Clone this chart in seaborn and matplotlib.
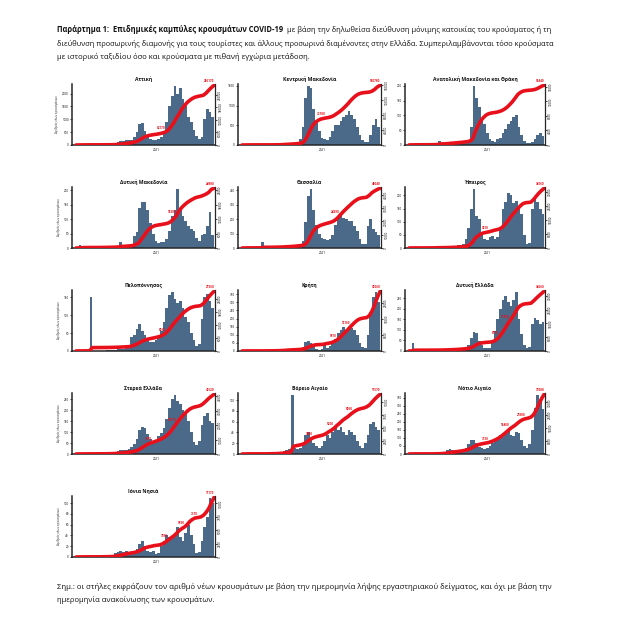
import numpy as np
import pandas as pd
import seaborn as sns
import matplotlib.pyplot as plt
import matplotlib.dates as mdates
from matplotlib.ticker import MultipleLocator, MaxNLocator

# daily new cases, mean per 10-day bin starting 1 March 2020
bin_start = pd.date_range('2020-03-01', periods=52, freq='10D')

attiki = [5, 15, 20, 15, 10, 5, 3, 3, 3, 3, 5, 10, 10, 15, 25, 80, 120, 150, 170, 190, 180, 200, 300, 500,
          800, 850, 550, 350, 250, 200, 180, 250, 300, 450, 900, 1500, 1900, 2300, 2000, 2200, 1800, 1500,
          1100, 900, 600, 350, 250, 300, 1000, 1400, 1300, 1100]
k_makedonia = [2, 10, 8, 5, 3, 2, 1, 1, 1, 1, 2, 4, 5, 8, 15, 30, 45, 50, 40, 45, 50, 70, 150, 450,
               1200, 1500, 1450, 900, 550, 350, 180, 150, 130, 200, 350, 500, 500, 600, 700, 750, 850, 750,
               650, 450, 250, 120, 70, 80, 250, 500, 650, 450]
a_makedonia = [1, 2, 1, 1, 1, 0, 0, 1, 0, 1, 2, 4, 14, 3, 4, 6, 8, 5, 6, 8, 7, 8, 10, 15,
               60, 200, 160, 130, 90, 70, 40, 20, 12, 10, 20, 25, 40, 55, 70, 80, 95, 100,
               60, 35, 15, 8, 6, 10, 20, 35, 40, 30]
d_makedonia = [1, 2, 10, 4, 2, 1, 0, 0, 1, 1, 1, 2, 2, 3, 3, 5, 8, 20, 6, 8, 10, 15, 40, 55,
               140, 160, 160, 130, 85, 50, 25, 18, 20, 20, 30, 60, 110, 130, 205, 140, 110, 95,
               75, 65, 60, 35, 25, 45, 50, 75, 125, 45]
thessalia = [1, 3, 2, 2, 1, 1, 1, 1, 40, 2, 1, 2, 3, 4, 5, 8, 10, 12, 12, 15, 18, 20, 25, 50,
             180, 360, 410, 260, 160, 100, 70, 60, 55, 65, 90, 160, 220, 225, 210, 200, 185, 190,
             150, 120, 60, 25, 30, 150, 200, 130, 110, 90]
ipeiros = [1, 2, 1, 1, 0, 0, 0, 0, 1, 1, 1, 8, 2, 2, 3, 4, 5, 6, 6, 10, 12, 15, 35, 75,
           150, 225, 120, 110, 60, 35, 30, 40, 45, 35, 40, 80, 150, 175, 210, 200, 170, 180,
           160, 130, 50, 15, 20, 150, 190, 175, 150, 130]
peloponnisos = [1, 2, 1, 1, 1, 0, 150, 0, 1, 1, 1, 1, 2, 2, 3, 4, 5, 6, 6, 8, 10, 40, 45, 60,
                75, 55, 45, 30, 25, 25, 30, 35, 55, 80, 120, 155, 165, 145, 135, 140, 120, 95,
                80, 50, 30, 15, 20, 90, 150, 160, 140, 120]
kriti = [1, 2, 1, 1, 0, 0, 0, 0, 0, 1, 1, 2, 2, 3, 4, 6, 10, 12, 8, 6, 6, 8, 12, 25,
         55, 60, 50, 30, 12, 8, 10, 35, 20, 30, 55, 75, 110, 130, 150, 125, 150, 140,
         130, 100, 50, 25, 20, 100, 230, 330, 365, 300]
d_ellada = [1, 2, 40, 3, 1, 1, 0, 0, 1, 1, 1, 2, 2, 3, 4, 5, 6, 8, 8, 10, 12, 15, 18, 30,
            60, 90, 85, 45, 30, 15, 12, 15, 40, 95, 150, 200, 240, 260, 230, 215, 240, 280,
            150, 80, 30, 15, 20, 130, 155, 145, 130, 135]
sterea = [1, 3, 2, 2, 1, 1, 0, 1, 1, 1, 1, 2, 3, 4, 6, 10, 15, 20, 18, 20, 25, 30, 45, 70,
          110, 125, 120, 90, 70, 60, 65, 80, 95, 120, 160, 210, 250, 270, 240, 230, 200, 190,
          150, 100, 55, 40, 60, 130, 175, 185, 150, 140]
v_aigaio = [0, 1, 1, 1, 0, 0, 0, 0, 0, 0, 1, 1, 1, 2, 3, 4, 6, 8, 10, 110, 12, 10, 12, 20,
            35, 40, 30, 20, 15, 12, 15, 25, 35, 30, 40, 50, 45, 50, 40, 35, 45, 40,
            35, 25, 15, 12, 20, 35, 55, 60, 50, 45]
n_aigaio = [1, 3, 2, 1, 1, 0, 0, 0, 0, 1, 2, 4, 6, 10, 15, 25, 30, 25, 20, 22, 25, 30, 40, 60,
            90, 85, 70, 45, 35, 30, 35, 50, 70, 80, 95, 120, 130, 140, 150, 120, 110, 140,
            130, 90, 50, 40, 60, 150, 290, 370, 330, 280]
ionia = [0, 1, 1, 1, 0, 0, 0, 0, 0, 0, 1, 1, 1, 2, 3, 8, 10, 12, 10, 12, 9, 8, 11, 14,
         25, 30, 20, 12, 10, 12, 6, 8, 20, 30, 40, 38, 35, 45, 55, 38, 30, 45,
         60, 40, 25, 8, 10, 30, 55, 75, 110, 100]

titles = ['Αττική', 'Κεντρική Μακεδονία', 'Ανατολική Μακεδονία και Θράκη',
          'Δυτική Μακεδονία', 'Θεσσαλία', 'Ήπειρος',
          'Πελοπόννησος', 'Κρήτη', 'Δυτική Ελλάδα',
          'Στερεά Ελλάδα', 'Βόρειο Αιγαίο', 'Νότιο Αιγαίο',
          'Ιόνια Νησιά']
series = [attiki, k_makedonia, a_makedonia, d_makedonia, thessalia, ipeiros,
          peloponnisos, kriti, d_ellada, sterea, v_aigaio, n_aigaio, ionia]
tick_steps = [500, 500, 50, 50, 100, 50, 50, 50, 50, 50, 20, 50, 20]
# bins where the cumulative total is written in red
label_bins = [[33], [31], [], [37], [36], [30], [33], [35, 40], [34, 38],
              [28, 37], [26, 34, 41], [30, 38, 44], [34, 40, 45]]

header_bold = 'Παράρτημα 1:  Επιδημικές καμπύλες κρουσμάτων COVID-19'
header = ['με βάση την δηλωθείσα διεύθυνση μόνιμης κατοικίας του κρούσματος ή τη',
          'διεύθυνση προσωρινής διαμονής για τους τουρίστες και άλλους προσωρινά διαμένοντες '
          'στην Ελλάδα. Συμπεριλαμβάνονται τόσο κρούσματα',
          'με ιστορικό ταξιδίου όσο και κρούσματα με πιθανή εγχώρια μετάδοση.']
footer = ['Σημ.: οι στήλες εκφράζουν τον αριθμό νέων κρουσμάτων με βάση την ημερομηνία λήψης '
          'εργαστηριακού δείγματος, και όχι με βάση την',
          'ημερομηνία ανακοίνωσης των κρουσμάτων.']

sns.set_style('white')
plt.rcParams['font.family'] = ['Open Sans', 'DejaVu Sans']

W, H = 626, 628
fig = plt.figure(figsize=(W / 100, H / 100), dpi=100)

BAR = '#4b6a8a'
RED = '#e8101a'
TXT = '#111111'
col_left = [72, 238, 405]
col_width = [143, 143, 140]
row_bottom = [145, 248, 351, 454, 557]
ax_h = 61

bin_end = bin_start + pd.Timedelta(days=10)
for i, (title, vals) in enumerate(zip(titles, series)):
    r, c = divmod(i, 3)
    ax = fig.add_axes([col_left[c] / W, 1 - row_bottom[r] / H, col_width[c] / W, ax_h / H])
    ax.bar(bin_start, vals, width=10, align='edge', color=BAR, linewidth=0)
    ax.set_ylim(0, max(vals) * 1.03)
    ax.yaxis.set_major_locator(MultipleLocator(tick_steps[i]))
    ax.set_xlim(bin_start[0] - pd.Timedelta(days=5), bin_end[-1] + pd.Timedelta(days=3))
    ax.xaxis.set_major_locator(mdates.YearLocator(month=1, day=1))
    ax.xaxis.set_major_formatter(mdates.DateFormatter('%Y'))
    ax.set_title(title, fontsize=3.6, fontweight='bold', pad=2.5, color=TXT)
    if c == 0:
        ax.set_ylabel('Αριθμός νέων κρουσμάτων', fontsize=2.2, labelpad=2)

    cum = np.cumsum(np.array(vals) * 10)
    ax2 = ax.twinx()
    sns.lineplot(x=bin_end, y=cum, ax=ax2, color=RED, linewidth=2.6, solid_capstyle='round')
    ax2.set_ylim(0, cum[-1] * 1.02)
    ax2.yaxis.set_major_locator(MaxNLocator(5))
    ax2.set_ylabel('')
    for k in label_bins[i] + [len(vals) - 1]:
        ax2.text(bin_end[k], cum[k] + cum[-1] * 0.03, f'{cum[k]:.0f}', fontsize=2.2,
                 color=RED, fontweight='bold', ha='right', va='bottom', clip_on=False)

    for a in (ax, ax2):
        for s in a.spines.values():
            s.set_visible(False)
        a.tick_params(length=1.5, width=0.5, labelsize=2.2, pad=0.8, colors='black')
    ax.spines['left'].set_visible(True)
    ax.spines['left'].set_linewidth(1.1)
    ax.spines['bottom'].set_visible(True)
    ax.spines['bottom'].set_linewidth(1.1)
    ax2.spines['right'].set_visible(True)
    ax2.spines['right'].set_linewidth(0.9)
    for lab in ax2.get_yticklabels():
        lab.set_rotation(90)
        lab.set_va('center')

# paragraph text: each full-width line is sized to span the text column
X0, X1 = 57, 563
renderer = fig.canvas.get_renderer()
BASE = 5.0


def width_of(s, size, weight='normal'):
    t = fig.text(0, 0, s, fontsize=size, fontweight=weight)
    w = t.get_window_extent(renderer).width
    t.remove()
    return w


def line(y_px, normal, size, bold=''):
    x = X0
    if bold:
        fig.text(x / W, 1 - y_px / H, bold, fontsize=size, fontweight='bold', va='center', color=TXT)
        x += width_of(bold, size, 'bold') + width_of('a  a', size) - width_of('aa', size)
    fig.text(x / W, 1 - y_px / H, normal, fontsize=size, va='center', color=TXT)


def fit(normal, bold=''):
    w = width_of(normal, BASE)
    if bold:
        w += width_of(bold, BASE, 'bold') + width_of('a  a', BASE) - width_of('aa', BASE)
    return BASE * (X1 - X0) / w


s1 = fit(header[0], header_bold)
s2 = fit(header[1])
s4 = fit(footer[0])
s_mean = (s1 + s2 + s4) / 3
line(30, header[0], s1, header_bold)
line(44, header[1], s2)
line(57, header[2], s_mean)
line(587, footer[0], s4)
line(600, footer[1], s_mean)

fig.savefig('out.png', dpi=100)
